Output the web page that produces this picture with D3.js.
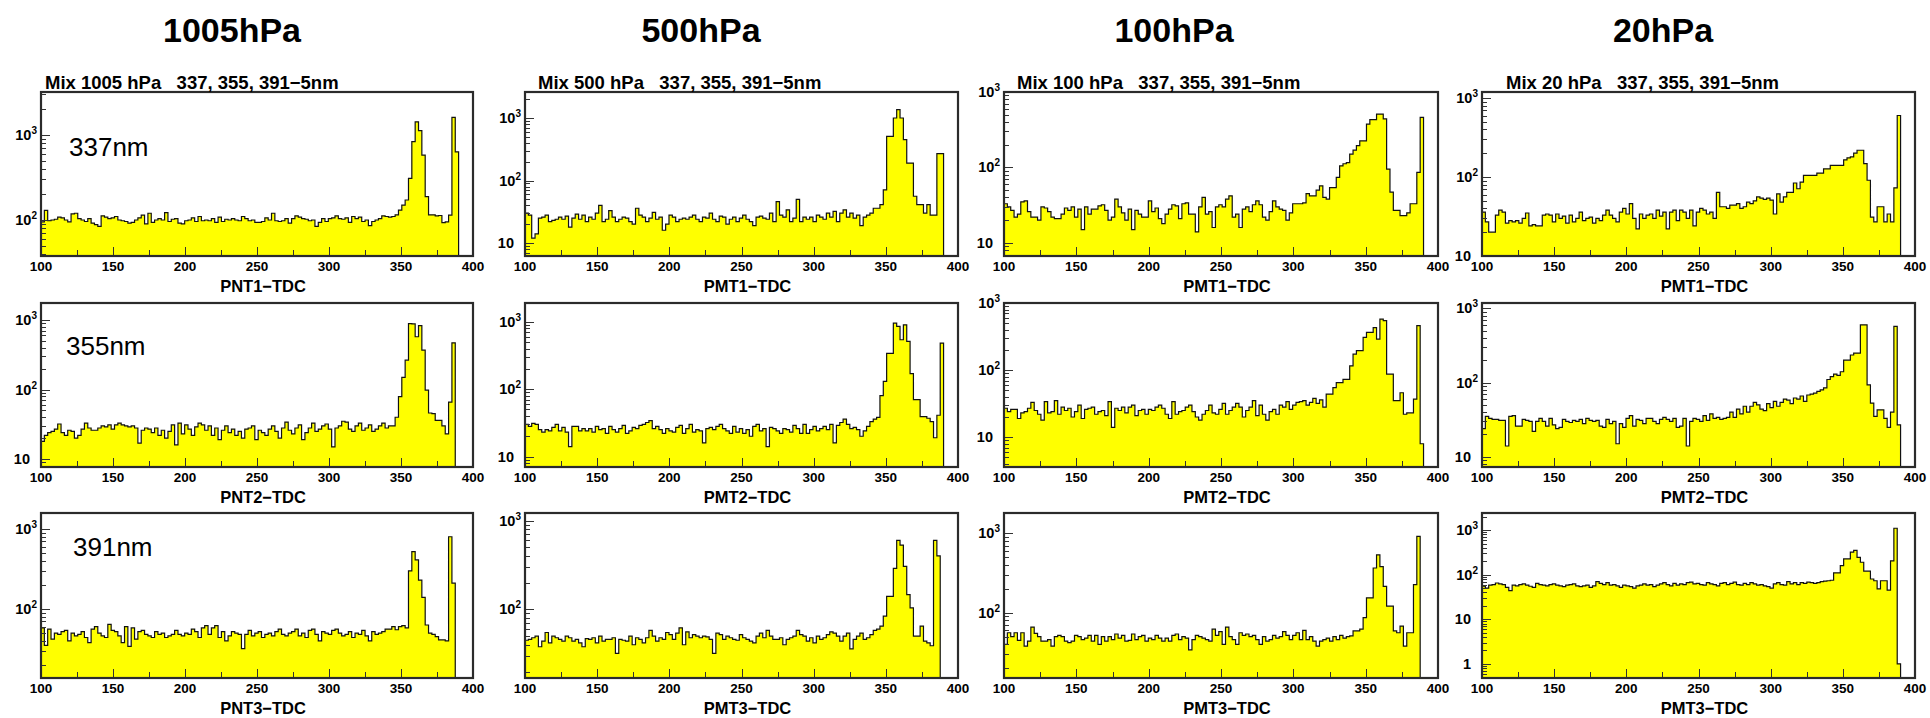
<!DOCTYPE html>
<html>
<head>
<meta charset="utf-8">
<script src="https://cdn.jsdelivr.net/npm/d3@7"></script>
<style>
  body { margin: 0; background: #fff; }
  svg { display: block; font-family: "Liberation Sans", Arial, sans-serif; }
</style>
</head>
<body>
<svg id="chart" width="1930" height="718"></svg>
<script>
// histogram binning (TDC channels)
var BIN_START = 100;
var BIN_WIDTH = 2.32;

var pressures = ["1005hPa", "500hPa", "100hPa", "20hPa"];
var runTitles = [
  "Mix 1005 hPa   337, 355, 391\u22125nm",
  "Mix 500 hPa   337, 355, 391\u22125nm",
  "Mix 100 hPa   337, 355, 391\u22125nm",
  "Mix 20 hPa   337, 355, 391\u22125nm"
];
var wavelengths = ["337nm", "355nm", "391nm"];
var axisTitles = [
  ["PNT1\u2212TDC", "PNT2\u2212TDC", "PNT3\u2212TDC"],
  ["PMT1\u2212TDC", "PMT2\u2212TDC", "PMT3\u2212TDC"],
  ["PMT1\u2212TDC", "PMT2\u2212TDC", "PMT3\u2212TDC"],
  ["PMT1\u2212TDC", "PMT2\u2212TDC", "PMT3\u2212TDC"]
];
var xTickValues = [100, 150, 200, 250, 300, 350, 400];

// y ranges of each pad [column][row]
var yRanges = [
  [[37.7, 3208], [7.7, 1757], [13.7, 1585]],
  [[6.2, 2606], [7.0, 1893], [16.9, 1219]],
  [[6.7, 1000], [3.6, 1000], [15.1, 1795]],
  [[10, 1191], [7.3, 1179], [0.48, 2420]]
];

// counts per bin
var h1005_1 = [95,130,98,100,102,108,106,100,95,118,120,104,100,96,104,92,88,84,112,108,104,106,110,100,98,
  96,92,94,100,106,114,90,120,94,100,104,100,122,96,102,104,92,90,98,100,106,96,110,98,100,
  98,104,94,108,96,102,100,104,100,98,110,104,98,100,94,94,96,106,100,120,98,96,98,104,92,
  104,112,108,104,102,98,100,84,94,104,96,104,106,112,104,102,106,94,110,104,108,96,100,86,96,
  100,104,112,110,108,
  110,115,131,150,172,309,835,1430,1125,580,188,115,115,112,113,93,95,114,1610,635];
var h1005_2 = [18,22,24,25,27,32,24,22,26,25,20,22,27,33,28,26,26,28,30,29,31,27,31,33,31,
  30,29,30,28,17,26,28,27,24,28,22,26,20,25,31,16,33,23,31,27,22,29,33,31,26,
  30,22,28,19,26,30,24,27,22,25,20,27,28,30,19,26,24,22,27,30,25,20,28,34,26,
  23,28,31,19,24,28,33,25,27,30,32,27,15,28,30,35,34,27,25,30,33,26,28,31,25,
  27,30,33,28,30,
  30,40,79,150,265,890,880,575,830,370,98,46,45,36,36,30,23,66,470];
var h1005_3 = [58,35,56,42,50,48,52,54,40,50,46,48,52,44,38,56,60,50,46,44,64,54,52,46,38,
  60,34,58,42,52,54,48,46,44,52,48,50,44,46,48,54,48,46,50,48,56,52,44,58,62,
  48,58,62,44,52,40,46,52,50,48,32,48,54,46,50,52,44,48,50,46,52,56,48,46,50,
  52,56,46,50,44,54,56,48,40,52,50,48,54,56,50,46,48,52,44,50,48,54,46,40,52,
  48,50,52,56,56,
  60,55,60,62,58,300,520,410,230,140,63,50,48,45,41,41,40,800,210];

var h500_1 = [30,28,12,14,25,26,28,22,23,24,26,24,27,18,25,29,24,28,22,26,24,30,40,22,24,
  33,26,22,24,26,25,22,20,36,28,26,22,25,31,24,26,16,20,28,26,22,24,25,24,26,
  28,24,22,26,25,30,24,22,27,26,20,24,26,22,25,28,24,22,19,26,27,25,24,30,22,
  46,28,26,34,22,25,50,22,26,24,26,22,28,26,24,30,26,32,22,30,34,26,30,25,28,
  19,26,28,30,36,
  36,41,71,509,509,1000,1360,1000,450,190,190,56,41,41,30,41,28,28,270,270];
var h500_2 = [30,28,31,30,25,23,25,24,27,30,24,27,23,14,28,28,24,26,24,26,23,28,25,26,22,
  28,25,23,26,29,22,24,27,26,29,30,32,34,26,28,25,22,26,24,23,27,29,22,26,30,
  23,25,24,16,26,27,25,28,30,26,24,22,28,23,26,22,25,20,28,30,24,26,14,27,26,
  24,22,26,25,23,29,26,22,30,22,25,28,24,26,28,25,30,16,29,32,36,30,26,27,25,
  20,24,28,33,36,
  38,80,130,340,340,950,850,540,900,510,170,70,70,39,39,37,33,19,41,480];
var h500_3 = [45,46,48,50,38,44,55,42,50,48,46,44,50,48,44,46,42,38,47,46,48,42,50,44,46,
  46,48,32,46,45,44,50,40,48,46,42,48,58,50,44,48,46,55,52,46,54,62,40,56,48,
  52,50,48,50,49,46,32,54,52,46,50,48,46,45,52,48,46,44,42,50,54,48,58,50,46,
  46,48,40,46,48,50,58,52,50,44,48,42,50,46,48,52,56,54,50,44,50,54,36,46,50,
  54,46,48,52,58,
  60,65,84,140,140,290,600,530,305,147,104,50,50,65,44,42,39,600,400];

var h100_1 = [33,30,27,22,24,35,36,26,22,22,20,30,29,26,22,21,21,24,29,27,30,22,28,15,30,
  24,28,28,31,32,27,20,22,38,30,25,20,28,15,27,24,22,22,36,26,29,21,18,24,28,
  32,31,21,33,34,24,24,14,30,40,24,26,16,30,32,30,38,42,22,24,16,28,30,26,32,
  36,32,22,20,26,36,30,28,27,20,25,33,33,33,34,45,42,42,50,57,40,38,54,54,74,
  105,112,116,150,170,
  195,225,225,375,430,430,510,510,440,95,47,27,27,23,23,25,33,33,86,460];
var h100_2 = [27,24,26,26,19,23,24,27,33,25,22,18,34,23,24,35,22,28,25,27,20,24,30,19,26,
  27,28,22,24,25,21,34,14,27,25,28,23,28,30,21,25,26,22,26,25,28,30,27,22,19,
  34,22,24,25,28,30,24,20,18,22,25,30,23,22,26,32,22,25,28,32,28,20,25,28,35,
  21,30,22,18,24,26,22,30,28,34,26,30,33,34,35,30,33,38,32,36,28,44,44,55,65,
  65,73,73,116,173,
  195,195,307,365,365,430,290,575,545,87,87,35,35,46,22,23,23,37,460,8];
var h100_3 = [40,56,50,56,45,56,38,44,66,55,50,44,44,46,38,50,52,50,44,42,44,52,50,46,48,
  52,44,52,40,50,44,50,46,54,48,52,44,45,54,46,50,52,44,48,46,52,48,44,48,44,
  52,54,46,50,48,34,46,52,50,48,46,44,62,52,58,40,66,50,46,40,56,52,54,50,52,
  46,40,50,44,46,52,48,50,58,52,46,52,56,46,60,46,50,44,38,44,46,48,44,50,46,
  52,48,50,51,59,
  59,62,87,154,154,365,535,380,215,121,121,59,56,68,38,56,56,225,910];

var h20_1 = [36,27,20,20,33,38,36,26,28,27,28,26,30,35,24,25,24,24,33,34,33,27,34,30,32,
  26,33,27,30,36,28,30,31,26,30,28,33,38,33,30,27,36,40,34,46,30,22,34,30,33,
  34,30,38,32,36,22,36,38,28,38,36,30,38,24,36,40,38,34,36,30,64,42,42,40,44,
  44,46,40,42,48,46,50,56,54,52,54,51,34,61,48,56,64,64,84,71,86,105,105,105,105,
  112,112,127,127,140,
  140,140,140,165,175,180,200,218,218,148,91,31,27,42,42,27,34,27,73,600];
var h20_2 = [24,35,33,32,32,31,31,14,35,36,26,26,32,31,30,22,30,33,30,26,33,27,24,25,32,
  30,29,31,30,32,28,33,31,30,31,26,25,32,28,30,15,28,25,33,36,26,32,31,28,33,
  33,30,28,32,34,32,30,33,25,26,33,14,30,33,32,30,36,31,38,33,34,32,33,34,40,
  34,44,38,48,40,48,54,50,44,42,52,46,56,48,54,60,58,52,62,60,66,56,68,70,72,
  76,80,85,110,120,
  130,125,140,200,200,235,250,250,600,600,93,53,35,43,43,33,25,40,570,27];
var h20_3 = [55,50,58,60,65,62,60,52,44,58,56,60,62,58,55,52,64,60,58,56,60,62,58,56,54,
  58,60,62,56,54,56,58,52,56,70,64,60,66,58,60,56,52,58,56,54,50,56,58,62,58,
  60,54,58,62,66,60,56,64,58,62,60,66,68,62,64,60,58,66,62,60,56,64,66,60,64,
  68,60,58,64,60,66,62,58,60,56,54,50,62,66,60,58,70,62,66,60,66,64,68,66,64,
  66,70,72,73,75,
  110,110,160,225,225,320,350,245,190,120,120,80,73,48,73,73,45,205,1100,1];

var histos = [
  [h1005_1, h1005_2, h1005_3],
  [h500_1, h500_2, h500_3],
  [h100_1, h100_2, h100_3],
  [h20_1, h20_2, h20_3]
];

// page layout
var colFrames = [[41, 473], [525, 958], [1004, 1438], [1482, 1915]];
var rowFrames = [[92, 256], [303, 467], [513, 678]];
var headerX = [232, 701, 1174, 1663];
var titleX = [45, 538, 1017, 1506];
var labelPos = [[69, 156], [66, 355], [73, 556]];

var svg = d3.select("#chart");

svg.selectAll("text.header")
  .data(pressures)
  .enter()
  .append("text")
    .attr("class", "header")
    .attr("x", (d, i) => headerX[i])
    .attr("y", 42)
    .attr("text-anchor", "middle")
    .style("font-size", "34px")
    .style("font-weight", "bold")
    .text(d => d);

function drawPanel(col, row) {
  var counts = histos[col][row];
  var x0 = colFrames[col][0], x1 = colFrames[col][1];
  var top = rowFrames[row][0], bottom = rowFrames[row][1];
  var ymin = yRanges[col][row][0], ymax = yRanges[col][row][1];

  var xScale = d3.scaleLinear().domain([100, 400]).range([x0, x1]);
  var yScale = d3.scaleLog().domain([ymin, ymax]).range([bottom, top]);

  var g = svg.append("g");
  var clipId = "clip" + col + row;
  g.append("clipPath").attr("id", clipId)
    .append("rect")
      .attr("x", x0).attr("y", top)
      .attr("width", x1 - x0).attr("height", bottom - top);

  var edge = i => BIN_START + i * BIN_WIDTH;
  var pts = counts.map((c, i) => [edge(i), Math.max(c, ymin)]);
  pts.push([edge(counts.length), Math.max(counts[counts.length - 1], ymin)]);

  var area = d3.area()
    .curve(d3.curveStepAfter)
    .x(d => xScale(d[0]))
    .y0(bottom)
    .y1(d => yScale(d[1]));

  var line = d3.line()
    .curve(d3.curveStepAfter)
    .x(d => xScale(d[0]))
    .y(d => yScale(d[1]));

  var hg = g.append("g").attr("clip-path", "url(#" + clipId + ")");
  hg.append("path")
    .attr("d", area(pts))
    .attr("fill", "#ffff00");
  hg.append("path")
    .attr("d", line([[edge(0), ymin]].concat(pts, [[edge(counts.length), ymin]])))
    .attr("fill", "none")
    .attr("stroke", "#111")
    .attr("stroke-width", 1.2);

  // x ticks, inward
  var xt = d3.range(100, 401, 25).filter(v => v > 100 && v < 400);
  g.selectAll("line.xt")
    .data(xt)
    .enter()
    .append("line")
      .attr("x1", d => Math.round(xScale(d)) + 0.5)
      .attr("x2", d => Math.round(xScale(d)) + 0.5)
      .attr("y1", bottom)
      .attr("y2", d => bottom - (d % 50 === 0 ? 9 : 6))
      .attr("stroke", "#333");

  // log y ticks, inward
  var yt = [];
  for (var k = Math.floor(Math.log10(ymin)); k <= Math.ceil(Math.log10(ymax)); k++) {
    for (var m = 1; m <= 9; m++) {
      var v = m * Math.pow(10, k);
      if (v >= ymin && v <= ymax * 1.001) yt.push({v: v, major: m === 1, k: k});
    }
  }
  g.selectAll("line.yt")
    .data(yt)
    .enter()
    .append("line")
      .attr("x1", x0)
      .attr("x2", d => x0 + (d.major ? 9 : 5))
      .attr("y1", d => Math.round(yScale(d.v)) + 0.5)
      .attr("y2", d => Math.round(yScale(d.v)) + 0.5)
      .attr("stroke", "#333");

  var ylab = g.selectAll("text.yl")
    .data(yt.filter(d => d.major))
    .enter()
    .append("text")
      .attr("x", d => d.k > 1 ? x0 - 4 : x0 - 11)
      .attr("y", d => yScale(d.v) + 5)
      .attr("text-anchor", "end")
      .style("font-size", "14.5px")
      .style("font-weight", "bold");
  ylab.append("tspan").text(d => d.k === 0 ? "1" : "10");
  ylab.filter(d => d.k > 1)
    .append("tspan")
      .attr("dy", -6)
      .style("font-size", "10px")
      .text(d => d.k);

  // frame
  g.append("rect")
    .attr("x", x0).attr("y", top)
    .attr("width", x1 - x0).attr("height", bottom - top)
    .attr("fill", "none")
    .attr("stroke", "#2b2b2b")
    .attr("stroke-width", 2.2);

  g.selectAll("text.xl")
    .data(xTickValues)
    .enter()
    .append("text")
      .attr("x", d => xScale(d))
      .attr("y", bottom + 15)
      .attr("text-anchor", "middle")
      .style("font-size", "13.5px")
      .style("font-weight", "bold")
      .text(d => d);

  g.append("text")
    .attr("x", (x0 + x1) / 2 + 6)
    .attr("y", bottom + 36)
    .attr("text-anchor", "middle")
    .style("font-size", "16.5px")
    .style("font-weight", "bold")
    .text(axisTitles[col][row]);

  if (row === 0) {
    g.append("text")
      .attr("x", titleX[col])
      .attr("y", 89)
      .style("font-size", "18.5px")
      .style("font-weight", "bold")
      .style("white-space", "pre")
      .text(runTitles[col]);
  }

  if (col === 0) {
    g.append("text")
      .attr("x", labelPos[row][0])
      .attr("y", labelPos[row][1])
      .style("font-size", "26px")
      .text(wavelengths[row]);
  }
}

for (var c = 0; c < 4; c++) {
  for (var r = 0; r < 3; r++) drawPanel(c, r);
}
</script>
</body>
</html>
